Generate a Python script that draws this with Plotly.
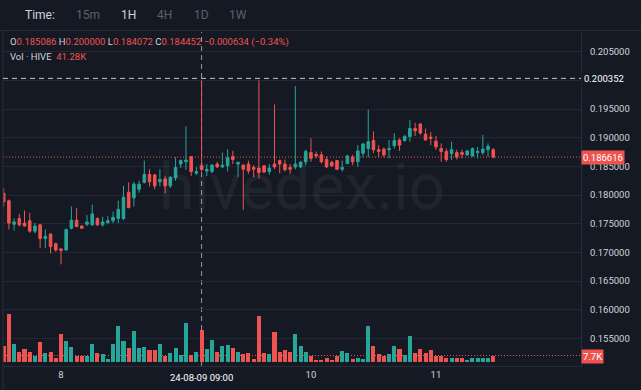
import plotly.graph_objects as go
import pandas as pd

# ---------------- data ----------------
start_time = "2024-08-07 13:00"

opens = [0.1803, 0.1790, 0.1749, 0.1759, 0.1751, 0.1755, 0.1737, 0.1748, 0.1724, 0.1732,
         0.1715, 0.1706, 0.1704, 0.1742, 0.1756, 0.1746, 0.1749, 0.1748, 0.1759, 0.1748,
         0.1752, 0.1755, 0.1759, 0.1759, 0.1805, 0.1795, 0.1810, 0.1822, 0.1836, 0.1835,
         0.1823, 0.1828, 0.1816, 0.1830, 0.1854, 0.1858, 0.1867, 0.1838, 0.185086, 0.1842,
         0.1841, 0.1854, 0.1849, 0.1851, 0.1867, 0.1854, 0.1852, 0.1854, 0.1848, 0.1847,
         0.1851, 0.1841, 0.1854, 0.1860, 0.1854, 0.1848, 0.1849, 0.1849, 0.1858, 0.1874,
         0.1871, 0.1870, 0.1862, 0.1857, 0.1860, 0.1845, 0.1855, 0.1866, 0.1858, 0.1873,
         0.1881, 0.1895, 0.1879, 0.1880, 0.1879, 0.1886, 0.1896, 0.1895, 0.1902, 0.1916,
         0.1924, 0.1906, 0.1901, 0.1894, 0.1881, 0.1876, 0.1872, 0.1874, 0.1874, 0.1870,
         0.1868, 0.1874, 0.1874, 0.1879, 0.1879]
highs = [0.1812, 0.1792, 0.1759, 0.1767, 0.1773, 0.1769, 0.1751, 0.1749, 0.1740, 0.1733,
         0.1717, 0.1707, 0.1741, 0.1780, 0.1777, 0.1747, 0.1765, 0.1783, 0.1761, 0.1762,
         0.1763, 0.1771, 0.1790, 0.1816, 0.1822, 0.1823, 0.1825, 0.1860, 0.1845, 0.1837,
         0.1845, 0.1833, 0.1833, 0.1866, 0.1862, 0.1920, 0.1868, 0.1849, 0.200000, 0.1854,
         0.1854, 0.1858, 0.1874, 0.1880, 0.1877, 0.1858, 0.1854, 0.1860, 0.1852, 0.2000,
         0.1852, 0.1854, 0.1958, 0.1862, 0.1862, 0.1854, 0.1990, 0.1859, 0.1879, 0.1899,
         0.1876, 0.1876, 0.1867, 0.1860, 0.1861, 0.1860, 0.1870, 0.1870, 0.1887, 0.1891,
         0.1949, 0.1911, 0.1887, 0.1883, 0.1896, 0.1908, 0.1899, 0.1905, 0.1931, 0.1926,
         0.1925, 0.1916, 0.1910, 0.1903, 0.1890, 0.1881, 0.1893, 0.1879, 0.1879, 0.1878,
         0.1883, 0.1884, 0.1905, 0.1890, 0.1882]
lows = [0.1780, 0.1740, 0.1738, 0.1745, 0.1745, 0.1734, 0.1733, 0.1708, 0.1707, 0.1698,
        0.1701, 0.1679, 0.1703, 0.1740, 0.1744, 0.1741, 0.1746, 0.1746, 0.1746, 0.1745,
        0.1749, 0.1751, 0.1751, 0.1756, 0.1777, 0.1780, 0.1804, 0.1820, 0.1815, 0.1810,
        0.1815, 0.1803, 0.1812, 0.1825, 0.1847, 0.1844, 0.1833, 0.1835, 0.184072, 0.1833,
        0.1838, 0.1847, 0.1847, 0.1841, 0.1854, 0.1831, 0.1774, 0.1837, 0.1831, 0.1829,
        0.1838, 0.1835, 0.1845, 0.1838, 0.1841, 0.1837, 0.1845, 0.1847, 0.1852, 0.1858,
        0.1864, 0.1855, 0.1847, 0.1849, 0.1844, 0.1841, 0.1854, 0.1852, 0.1849, 0.1866,
        0.1866, 0.1873, 0.1866, 0.1866, 0.1864, 0.1881, 0.1877, 0.1893, 0.1893, 0.1903,
        0.1905, 0.1895, 0.1887, 0.1879, 0.1858, 0.1858, 0.1861, 0.1862, 0.1864, 0.1868,
        0.1867, 0.1864, 0.1870, 0.1867, 0.1864]
closes = [0.1788, 0.1751, 0.1753, 0.1748, 0.1746, 0.1737, 0.1746, 0.1724, 0.1728, 0.1710,
          0.1704, 0.1703, 0.1740, 0.1756, 0.1745, 0.1742, 0.1753, 0.1767, 0.1748, 0.1753,
          0.1755, 0.1761, 0.1775, 0.1796, 0.1778, 0.1819, 0.1819, 0.1836, 0.1823, 0.1816,
          0.1827, 0.1816, 0.1831, 0.1848, 0.1860, 0.1861, 0.1841, 0.1841, 0.184452, 0.1845,
          0.1852, 0.1849, 0.1852, 0.1865, 0.1862, 0.1857, 0.1845, 0.1842, 0.1845, 0.1839,
          0.1840, 0.1847, 0.1849, 0.1854, 0.1844, 0.1845, 0.1854, 0.1857, 0.1876, 0.1864,
          0.1868, 0.1858, 0.1849, 0.1851, 0.1845, 0.1848, 0.1868, 0.1858, 0.1877, 0.1889,
          0.1893, 0.1879, 0.1876, 0.1870, 0.1881, 0.1895, 0.1887, 0.1902, 0.1916, 0.1912,
          0.1908, 0.1896, 0.1899, 0.1884, 0.1876, 0.1862, 0.1879, 0.1866, 0.1871, 0.1877,
          0.1881, 0.1876, 0.1880, 0.1885, 0.186616]
volumes_k = [19.4, 61.0, 22.3, 12.0, 15.9, 12.0, 7.4, 25.4, 10.7, 12.0,
             4.3, 35.2, 26.2, 19.0, 7.7, 7.7, 7.7, 22.3, 10.7, 9.4,
             3.5, 22.3, 46.1, 26.2, 17.2, 40.0, 17.2, 18.1, 15.1, 15.1,
             22.3, 7.7, 10.7, 17.2, 8.6, 50.3, 8.6, 12.9, 41.28, 15.9,
             27.5, 12.0, 19.4, 21.0, 17.2, 12.9, 9.4, 10.7, 3.0, 59.0,
             10.7, 9.4, 38.7, 12.9, 15.1, 12.5, 35.2, 20.3, 12.0, 7.7,
             2.2, 2.2, 4.3, 2.2, 7.7, 13.8, 10.7, 3.0, 4.3, 3.0,
             46.1, 20.3, 9.4, 7.7, 9.4, 19.4, 15.9, 8.6, 33.2, 10.7,
             15.9, 11.6, 15.1, 7.7, 7.4, 4.3, 4.3, 4.3, 4.3, 2.2,
             4.3, 4.3, 4.3, 4.3, 7.7]

price_ticks = [0.205, 0.200, 0.195, 0.190, 0.185, 0.180, 0.175, 0.170, 0.165, 0.160, 0.155]
hidden_price_tick = 0.200          # covered by the crosshair price label
day_tick_times = ["2024-08-08", "2024-08-10", "2024-08-11"]
day_tick_labels = ["8", "10", "11"]

hover_index = 38
hover_time_label = "24-08-09 09:00"
crosshair_price = 0.200352
last_price = 0.186616
last_volume_label = "7.7K"
last_volume_k = 7.7
vol_hover_label = "41.28K"
timeframes = ["15m", "1H", "4H", "1D", "1W"]
active_tf = "1H"

# ---------------- styling ----------------
BG = "#151924"
GREEN = "#26a69a"
RED = "#ef5350"
GRID = "#232734"
TEXT = "#d1d4dc"
DIM = "#5d606b"
FONT = "Roboto"

W, H = 641, 390
PL, PR, PT, PB = 3, 581, 32, 366


def px(x):
    return (x - PL) / (PR - PL)


def py(y):
    return (PB - y) / (PB - PT)


times = pd.date_range(start_time, periods=len(opens), freq="h")
volumes = [v * 1000 for v in volumes_k]
vol_colors = [GREEN if c >= o else RED for o, c in zip(opens, closes)]

fig = go.Figure()
fig.add_trace(go.Bar(
    x=times, y=volumes, yaxis="y2", marker=dict(color=vol_colors, line=dict(width=0)),
    width=0.78 * 3600 * 1000, showlegend=False, hoverinfo="skip"))
fig.add_trace(go.Candlestick(
    x=times, open=opens, high=highs, low=lows, close=closes,
    increasing=dict(line=dict(color=GREEN, width=1), fillcolor=GREEN),
    decreasing=dict(line=dict(color=RED, width=1), fillcolor=RED),
    whiskerwidth=0, showlegend=False, hoverinfo="skip"))

t0 = times[0]
x_range = [t0 - pd.Timedelta(hours=0.13), t0 + pd.Timedelta(hours=110.85)]

price_text = ["" if abs(v - hidden_price_tick) < 1e-9 else f"{v:.6f}" for v in price_ticks]

fig.update_layout(
    width=W, height=H, autosize=False,
    margin=dict(l=PL, r=W - PR, t=PT, b=H - PB),
    paper_bgcolor=BG, plot_bgcolor=BG,
    font=dict(family=FONT, size=9.5, color=TEXT),
    bargap=0,
    hovermode=False,
    xaxis=dict(
        type="date", range=x_range, rangeslider=dict(visible=False),
        tickvals=day_tick_times, ticktext=day_tick_labels,
        showgrid=False, zeroline=False, showline=True, linecolor="#2a2e39",
        ticks="", tickfont=dict(size=9.5, color=TEXT), fixedrange=True),
    yaxis=dict(
        side="right", range=[0.15017, 0.20844],
        tickvals=price_ticks, ticktext=price_text,
        showgrid=True, gridcolor=GRID, gridwidth=1, zeroline=False,
        showline=True, linecolor="#2a2e39", ticks="", ticklabelstandoff=6,
        tickfont=dict(size=9.5, color=TEXT)),
    yaxis2=dict(overlaying="y", range=[-5800, 425200], visible=False),
)

shapes = [
    # top bar separator
    dict(type="line", xref="paper", yref="paper", x0=px(0), x1=px(W), y0=py(30.5), y1=py(30.5),
         line=dict(color="#2a2e39", width=1)),
    # left frame
    dict(type="line", xref="paper", yref="paper", x0=px(3), x1=px(3), y0=py(30.5), y1=py(H),
         line=dict(color="#2a2e39", width=1)),
    # crosshair vertical
    dict(type="line", xref="x", yref="paper", x0=times[hover_index], x1=times[hover_index],
         y0=0, y1=1, layer="below", line=dict(color="#9598a1", width=1, dash="5px,4px")),
    # crosshair horizontal
    dict(type="line", xref="paper", yref="y", x0=0, x1=1, y0=crosshair_price, y1=crosshair_price,
         line=dict(color="#c5c7cf", width=1, dash="5px,4px")),
    # last price dotted
    dict(type="line", xref="paper", yref="y", x0=0, x1=1, y0=last_price, y1=last_price,
         layer="below", line=dict(color=RED, width=1, dash="1px,2px")),
    # last volume dotted
    dict(type="line", xref="paper", yref="y2", x0=0, x1=1, y0=last_volume_k * 1000,
         y1=last_volume_k * 1000, layer="below", line=dict(color=RED, width=1, dash="1px,2px")),
]
fig.update_layout(shapes=shapes)

ann = []
# timeframe bar
ann.append(dict(text="Time:", x=px(23), y=py(15), xref="paper", yref="paper", xanchor="left",
                yanchor="middle", showarrow=False, font=dict(size=12, color=TEXT)))
tf_x = [74, 119, 155, 192, 227]
for tf, xx in zip(timeframes, tf_x):
    ann.append(dict(text=tf, x=px(xx), y=py(15), xref="paper", yref="paper", xanchor="left",
                    yanchor="middle", showarrow=False,
                    font=dict(size=12, color=TEXT if tf == active_tf else DIM)))

# OHLC legend
o, h, l, c = opens[hover_index], highs[hover_index], lows[hover_index], closes[hover_index]
chg = c - o
pct = chg / o * 100
sign = "\u2212" if chg < 0 else "+"
val = lambda s: f"<span style='color:{RED}'>{s}</span>"
legend_txt = (f"O{val(f'{o:.6f}')} H{val(f'{h:.6f}')} L{val(f'{l:.6f}')} C{val(f'{c:.6f}')} "
              f"{val(f'{sign}{abs(chg):.6f} ({sign}{abs(pct):.2f}%)')}")
ann.append(dict(text=legend_txt, x=px(8), y=py(42), xref="paper", yref="paper", xanchor="left",
                yanchor="middle", showarrow=False, font=dict(size=9.5, color=TEXT)))
ann.append(dict(text=f"Vol \u00b7 HIVE  {val(vol_hover_label)}", x=px(8), y=py(57), xref="paper",
                yref="paper", xanchor="left", yanchor="middle", showarrow=False,
                font=dict(size=9.5, color=TEXT)))

# watermark
ann.append(dict(text="hivedex.io", x=px(302), y=py(187), xref="paper", yref="paper",
                xanchor="center", yanchor="middle", showarrow=False,
                font=dict(size=64, color="rgba(255,255,255,0.05)")))

# axis value labels
ann.append(dict(text=f"{crosshair_price:.6f}", x=px(581), y=crosshair_price, xref="paper", yref="y",
                xanchor="left", yanchor="middle", showarrow=False, bgcolor=BG, borderpad=2,
                font=dict(size=9.5, color="#ffffff")))
ann.append(dict(text=f"{last_price:.6f}", x=px(581), y=last_price, xref="paper", yref="y",
                xanchor="left", yanchor="middle", showarrow=False, bgcolor=RED, borderpad=1,
                font=dict(size=9.5, color="#ffffff")))
ann.append(dict(text=last_volume_label, x=px(581), y=py(356.5), xref="paper", yref="paper",
                xanchor="left", yanchor="middle", showarrow=False, bgcolor=RED, borderpad=1,
                font=dict(size=9.5, color="#ffffff")))
ann.append(dict(text=hover_time_label, x=times[hover_index], y=py(377), xref="x", yref="paper",
                xanchor="center", yanchor="middle", showarrow=False, bgcolor=BG, borderpad=2,
                font=dict(size=9.5, color="#ffffff")))
fig.update_layout(annotations=ann)

fig.write_html("out.html", config={"displayModeBar": False},
               post_script="document.body.style.margin='0';document.body.style.background='#151924';")
